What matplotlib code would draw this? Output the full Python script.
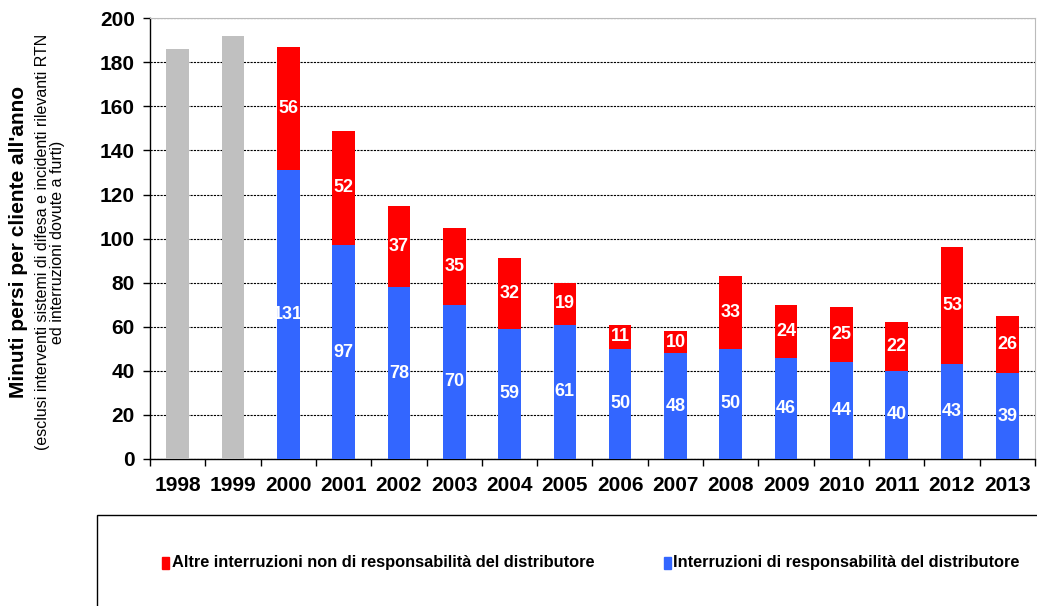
import numpy as np
import matplotlib
matplotlib.use("Agg")
import matplotlib.pyplot as plt
from matplotlib.patches import Rectangle

plt.rcParams['font.family'] = ['Liberation Sans', 'DejaVu Sans']

anni = ['1998', '1999', '2000', '2001', '2002', '2003', '2004', '2005',
        '2006', '2007', '2008', '2009', '2010', '2011', '2012', '2013']
totale_vecchio = [186, 192]          # 1998-1999, no split
distributore = [131, 97, 78, 70, 59, 61, 50, 48, 50, 46, 44, 40, 43, 39]
altre = [56, 52, 37, 35, 32, 19, 11, 10, 33, 24, 25, 22, 53, 26]

ROSSO = '#FF0000'
BLU = '#3366FF'
GRIGIO = '#C0C0C0'

fig = plt.figure(figsize=(10.37, 6.06), dpi=100)
ax = fig.add_axes([0.1447, 0.2426, 0.8533, 0.7274])

x = np.arange(len(anni))
w = 0.41
x_old = x[:2]
x_new = x[2:]

ax.bar(x_old, totale_vecchio, w, color=GRIGIO, zorder=3)
ax.bar(x_new, distributore, w, color=BLU, zorder=3)
ax.bar(x_new, altre, w, bottom=distributore, color=ROSSO, zorder=3)

# etichette dentro le barre
for xi, b, r in zip(x_new, distributore, altre):
    ax.text(xi, b / 2, str(b), ha='center', va='center', color='white',
            fontsize=13, fontweight='bold', zorder=4)
    ax.text(xi, b + r / 2, str(r), ha='center', va='center', color='white',
            fontsize=13, fontweight='bold', zorder=4)

ax.set_xlim(-0.5, len(anni) - 0.5)
ax.set_ylim(0, 200)
ax.set_yticks(np.arange(0, 201, 20))
ax.set_xticks(x)
ax.set_xticklabels(anni)
ax.set_xticks(np.arange(-0.5, len(anni), 1), minor=True)
ax.tick_params(axis='x', which='major', length=0, pad=12, labelsize=15)
ax.tick_params(axis='x', which='minor', length=5, width=1, direction='out')
ax.tick_params(axis='y', length=5, width=1, direction='out', labelsize=15, pad=6)
for lab in ax.get_xticklabels() + ax.get_yticklabels():
    lab.set_fontweight('bold')

ax.yaxis.grid(True, color='black', linestyle=(0, (2, 1)), linewidth=0.8, zorder=1)
ax.set_axisbelow(True)

ax.spines['left'].set_color('black')
ax.spines['bottom'].set_color('black')
ax.spines['left'].set_linewidth(1)
ax.spines['bottom'].set_linewidth(1)
ax.spines['top'].set_color('#BBBBBB')
ax.spines['right'].set_color('#BBBBBB')
ax.spines['top'].set_linewidth(0.8)
ax.spines['right'].set_linewidth(0.8)

# titolo asse y
fig.text(0.018, 0.6, "Minuti persi per cliente all'anno", rotation=90,
         ha='center', va='center', fontsize=15, fontweight='bold')
fig.text(0.048, 0.6, "(esclusi interventi sistemi di difesa e incidenti rilevanti RTN\ned interruzioni dovute a furti)",
         rotation=90, ha='center', va='center', fontsize=11.5, linespacing=1.0)

# riquadro legenda
fig.patches.append(Rectangle((97 / 1037, -0.01), 1.0, (606 - 515) / 606 + 0.01,
                             transform=fig.transFigure, fill=False,
                             edgecolor='black', linewidth=1))
ly = 1 - 563 / 606
fig.patches.append(Rectangle((162 / 1037, ly - 0.01), 7 / 1037, 0.02,
                             transform=fig.transFigure, color=ROSSO))
fig.text(172 / 1037, ly, 'Altre interruzioni non di responsabilità del distributore',
         ha='left', va='center', fontsize=11.8, fontweight='bold')
fig.patches.append(Rectangle((664 / 1037, ly - 0.01), 7 / 1037, 0.02,
                             transform=fig.transFigure, color=BLU))
fig.text(673 / 1037, ly, 'Interruzioni di responsabilità del distributore',
         ha='left', va='center', fontsize=11.8, fontweight='bold')

fig.savefig('out.png', dpi=100)
